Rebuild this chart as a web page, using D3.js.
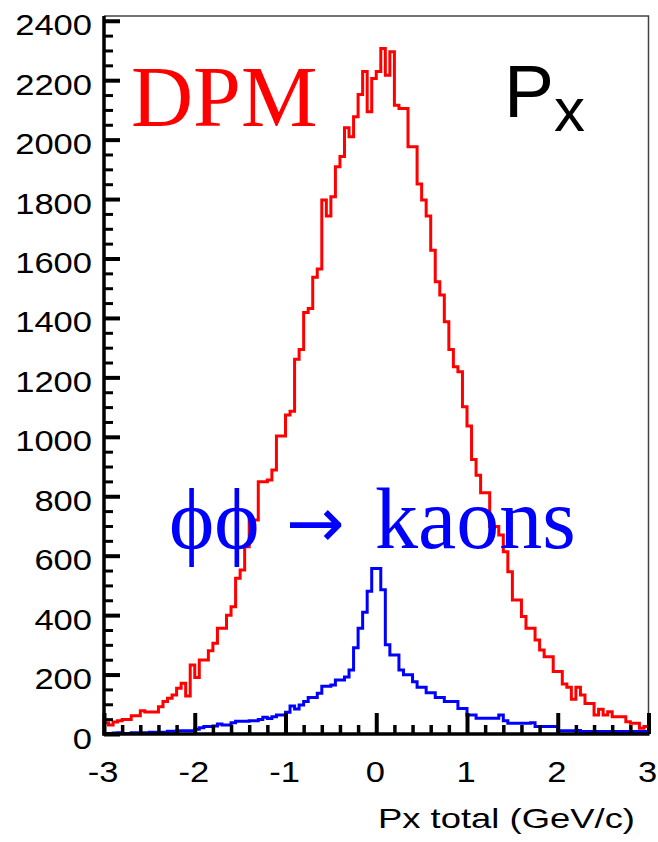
<!DOCTYPE html>
<html><head><meta charset="utf-8">
<script src="https://cdn.jsdelivr.net/npm/d3@7"></script>
<style>
html,body{margin:0;padding:0;background:#fff;}
svg{display:block;}
</style></head>
<body>
<svg id="chart" width="658" height="842"></svg>
<script>
// ---- data ----
const xRange = [-3, 3];
const binWidth = 0.05;
const dpmCounts = [38,30,40,45,49,49,61,61,78,74,74,74,92,109,120,131,154,171,128,232,
  190,249,249,280,305,356,356,400,428,524,552,630,720,720,849,849,855,888,1003,1003,
  1073,1086,1261,1294,1418,1432,1537,1565,1797,1743,1808,1909,1943,2040,2010,2077,2152,2229,2094,2206,
  2229,2307,2217,2296,2116,2105,2105,1976,1976,1851,1797,1743,1628,1522,1477,1387,1294,1236,1219,1101,
  1036,924,871,812,812,698,698,670,613,546,451,451,395,356,356,316,283,260,260,210,
  210,168,157,117,157,131,103,103,64,83,64,75,58,58,58,41,36,36,19,25];
const kaonCounts = [2,2,3,4,2,2,4,4,4,4,6,6,6,6,9,9,11,11,11,11,
  16,21,25,25,27,34,30,30,38,43,43,43,45,45,49,56,52,58,64,64,
  73,94,84,98,109,123,123,137,161,161,165,182,182,192,215,290,356,410,480,557,
  557,485,300,266,266,215,199,199,176,157,157,139,139,123,123,109,109,109,86,86,
  64,64,53,53,53,53,53,64,45,36,36,36,36,36,38,25,25,25,25,25,
  11,11,11,11,12,8,8,8,8,8,8,8,8,8,8,8,8,8,8,8];
const yTickValues = [0,200,400,600,800,1000,1200,1400,1600,1800,2000,2200,2400];
const xTickValues = [-3,-2,-1,0,1,2,3];
const yMax = 2416;
const xTitle = "Px total (GeV/c)";

(function () {
// ---- layout ----
const pL = 104, pR = 648.5, pT = 16, pB = 734;
const sans = '"Liberation Sans",Arial,Helvetica,sans-serif';
const serif = '"Liberation Serif","Times New Roman",Times,serif';
const svg = d3.select("#chart");
const x = d3.scaleLinear().domain(xRange).range([pL, pR]);
const y = d3.scaleLinear().domain([0, yMax]).range([pB, pT]);

// frame (top and right thin lines)
svg.append("path")
  .attr("d", `M${pL},${pT}H${pR}V${pB}`)
  .attr("fill", "none").attr("stroke", "#444").attr("stroke-width", 1.5);

// histograms
function histPath(counts) {
  const pts = counts.map((v, i) => [xRange[0] + i * binWidth, v]);
  pts.push([xRange[0] + counts.length * binWidth, counts[counts.length - 1]]);
  return d3.line().x(d => x(d[0])).y(d => y(d[1])).curve(d3.curveStepAfter)(pts);
}
svg.append("path").attr("d", histPath(dpmCounts))
  .attr("fill", "none").attr("stroke", "#ff0000").attr("stroke-width", 3);
svg.append("path").attr("d", histPath(kaonCounts))
  .attr("fill", "none").attr("stroke", "#0000ff").attr("stroke-width", 3);

// y axis (ticks inward)
const yMinor = d3.range(0, 2401, 50).filter(v => v % 200 !== 0);
svg.append("g").attr("transform", `translate(${pL},0)`)
  .call(d3.axisRight(y).tickValues(yMinor).tickSize(9).tickFormat(""))
  .call(g => g.selectAll(".tick line").attr("stroke", "#000").attr("stroke-width", 3));
svg.append("g").attr("transform", `translate(${pL},0)`)
  .call(d3.axisRight(y).tickValues(yTickValues).tickSize(16).tickFormat(""))
  .call(g => g.selectAll(".tick line").attr("stroke", "#000").attr("stroke-width", 4));
svg.selectAll(".domain").remove();
svg.append("line").attr("x1", pL).attr("x2", pL).attr("y1", pT).attr("y2", pB + 1.5)
  .attr("stroke", "#000").attr("stroke-width", 3.5);

// x axis (ticks inward)
const xMinor = d3.range(-3, 3.001, 0.2).filter(v => Math.abs(v - Math.round(v)) > 1e-6);
svg.append("g").attr("transform", `translate(0,${pB})`)
  .call(d3.axisTop(x).tickValues(xMinor).tickSize(9).tickFormat(""))
  .call(g => g.selectAll(".tick line").attr("stroke", "#000").attr("stroke-width", 3.5));
svg.append("g").attr("transform", `translate(0,${pB})`)
  .call(d3.axisTop(x).tickValues(xTickValues).tickSize(21).tickFormat(""))
  .call(g => g.selectAll(".tick line").attr("stroke", "#000").attr("stroke-width", 4));
svg.selectAll(".domain").remove();
svg.append("line").attr("x1", pL - 1.5).attr("x2", pR + 1).attr("y1", pB).attr("y2", pB)
  .attr("stroke", "#000").attr("stroke-width", 3.5);

// tick labels (horizontally stretched like the reference)
const stretch = 1.19;
function stretchText(sel) {
  sel.each(function () {
    const w = this.getComputedTextLength();
    d3.select(this).attr("textLength", w * stretch).attr("lengthAdjust", "spacingAndGlyphs");
  });
}
svg.append("g").selectAll("text").data(yTickValues).join("text")
  .attr("x", 92).attr("y", d => y(d) + 14.5)
  .attr("text-anchor", "end").style("font-family", sans).style("font-size", "29px").attr("fill", "#000")
  .text(d => d).call(stretchText);
svg.append("g").selectAll("text").data(xTickValues).join("text")
  .attr("x", d => x(d) - 1).attr("y", 782)
  .attr("text-anchor", "middle").style("font-family", sans).style("font-size", "29px").attr("fill", "#000")
  .text(d => d).call(stretchText);

// axis title
svg.append("text").attr("x", 635).attr("y", 828).attr("text-anchor", "end")
  .style("font-family", sans).style("font-size", "28px").attr("fill", "#000")
  .attr("textLength", 257).attr("lengthAdjust", "spacingAndGlyphs")
  .text(xTitle);

// annotations
svg.append("text").attr("x", 131).attr("y", 126).style("font-family", serif)
  .style("font-size", "86px").attr("fill", "#ff0000").text("DPM");

const px = svg.append("text").attr("x", 504).attr("y", 117).attr("fill", "#000")
  .style("font-family", sans);
px.append("tspan").style("font-size", "75px").text("P");
px.append("tspan").style("font-size", "62px").attr("dy", 14).text("x");

svg.append("text").attr("x", 169).attr("y", 548).style("font-family", serif)
  .style("font-size", "86px").attr("fill", "#0000ff").text("ϕϕ");
svg.append("text").attr("x", 286).attr("y", 547).style("font-family", '"DejaVu Sans",sans-serif')
  .style("font-size", "70px").attr("fill", "#0000ff").text("→");
svg.append("text").attr("x", 375).attr("y", 548).style("font-family", serif)
  .style("font-size", "86px").attr("fill", "#0000ff").text("kaons");
})();
</script>
</body></html>
